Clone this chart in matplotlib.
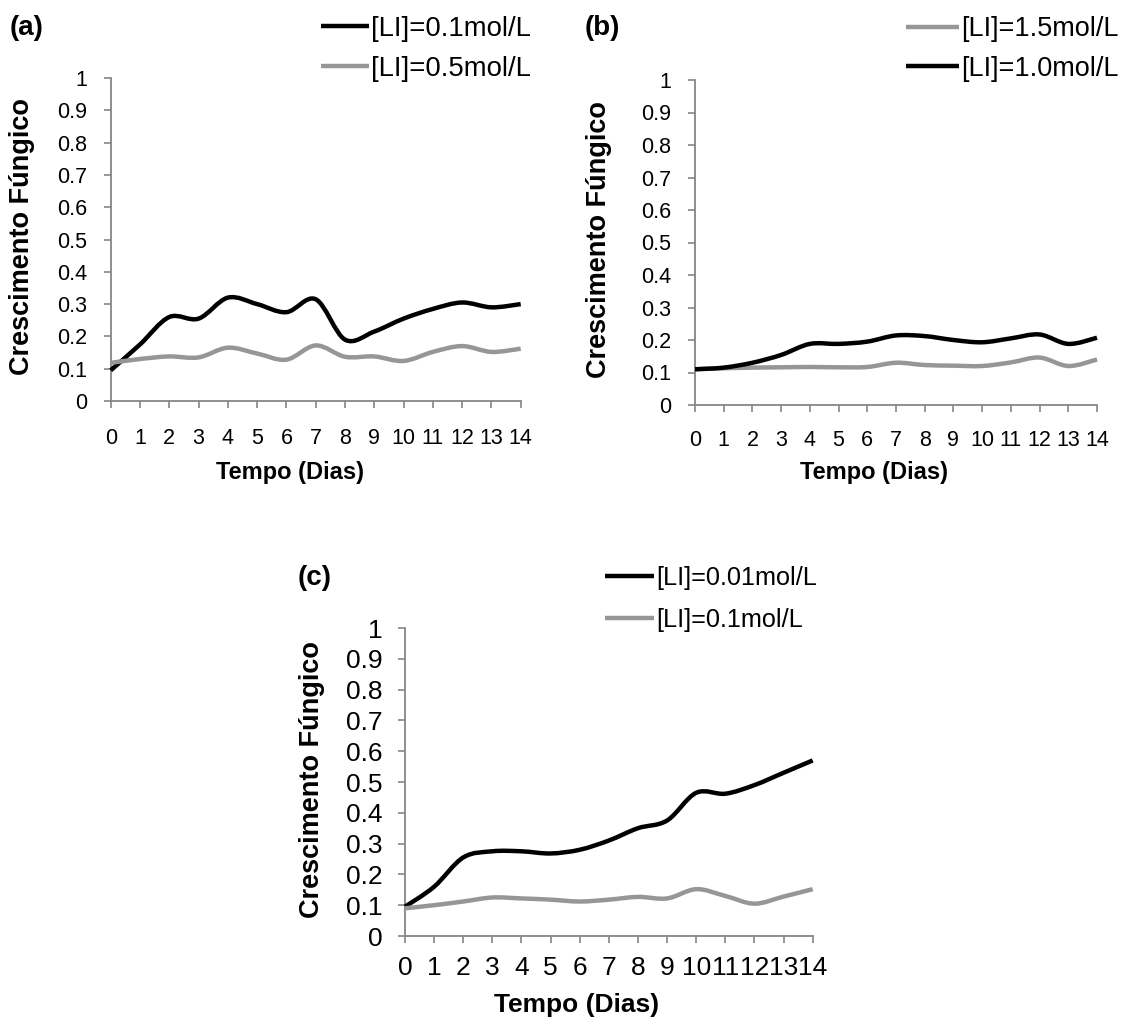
import matplotlib
matplotlib.use("Agg")
import matplotlib.pyplot as plt
from matplotlib.path import Path
from matplotlib.patches import PathPatch
from matplotlib.lines import Line2D

plt.rcParams['font.family'] = ['Liberation Sans', 'DejaVu Sans']

# Days of observation
days = list(range(15))
day_labels = [str(d) for d in days]
y_ticks = [0, 0.1, 0.2, 0.3, 0.4, 0.5, 0.6, 0.7, 0.8, 0.9, 1]
y_tick_labels = ['0', '0.1', '0.2', '0.3', '0.4', '0.5', '0.6', '0.7', '0.8', '0.9', '1']

# (a)
a_li_01 = [0.095, 0.175, 0.26, 0.255, 0.32, 0.30, 0.275, 0.315, 0.19, 0.215, 0.255, 0.285, 0.305, 0.29, 0.30]
a_li_05 = [0.118, 0.13, 0.138, 0.135, 0.165, 0.147, 0.128, 0.172, 0.137, 0.138, 0.124, 0.152, 0.17, 0.152, 0.162]

# (b)
b_li_15 = [0.11, 0.113, 0.115, 0.116, 0.117, 0.116, 0.117, 0.13, 0.123, 0.121, 0.12, 0.131, 0.146, 0.12, 0.14]
b_li_10 = [0.11, 0.115, 0.13, 0.154, 0.188, 0.188, 0.195, 0.214, 0.212, 0.20, 0.193, 0.205, 0.217, 0.188, 0.207]

# (c)
c_li_001 = [0.095, 0.16, 0.255, 0.275, 0.275, 0.268, 0.28, 0.31, 0.35, 0.375, 0.465, 0.462, 0.49, 0.53, 0.57]
c_li_01 = [0.09, 0.10, 0.112, 0.125, 0.122, 0.118, 0.112, 0.118, 0.127, 0.122, 0.152, 0.13, 0.105, 0.128, 0.152]

BLACK = '#000000'
GRAY = '#969696'
AXIS_GRAY = '#868686'

W, H = 1126, 1032
fig = plt.figure(figsize=(W / 100, H / 100), dpi=100)
fig.patch.set_facecolor('white')


def px_axes(left, right, top, bottom):
    return fig.add_axes([left / W, (H - bottom) / H, (right - left) / W, (bottom - top) / H])


def smooth_path(x, y):
    """Cubic Bezier path through the points (Catmull-Rom style smoothing)."""
    n = len(x)
    verts = [(x[0], y[0])]
    codes = [Path.MOVETO]
    for i in range(n - 1):
        i0 = i - 1 if i > 0 else i
        i3 = i + 2 if i + 2 < n else i + 1
        c1 = (x[i] + (x[i + 1] - x[i0]) / 6.0, y[i] + (y[i + 1] - y[i0]) / 6.0)
        c2 = (x[i + 1] - (x[i3] - x[i]) / 6.0, y[i + 1] - (y[i3] - y[i]) / 6.0)
        verts += [c1, c2, (x[i + 1], y[i + 1])]
        codes += [Path.CURVE4] * 3
    return Path(verts, codes)


def style_axes(ax, tick_fs, xpad, ypad):
    ax.set_xlim(0, 14)
    ax.set_ylim(0, 1)
    ax.set_xticks(days)
    ax.set_xticklabels(day_labels)
    ax.set_yticks(y_ticks)
    ax.set_yticklabels(y_tick_labels)
    for s in ('top', 'right'):
        ax.spines[s].set_visible(False)
    for s in ('left', 'bottom'):
        ax.spines[s].set_color(AXIS_GRAY)
        ax.spines[s].set_linewidth(1.3)
    ax.tick_params(axis='both', direction='out', length=5, width=1.2,
                   color=AXIS_GRAY, labelsize=tick_fs, labelcolor='black')
    ax.tick_params(axis='x', pad=xpad)
    ax.tick_params(axis='y', pad=ypad)
    ax.patch.set_alpha(0)


def draw_series(ax, series, legend_fs, legend_xy, handlelength, textpad, spacing):
    handles = []
    for values, color, label in series:
        patch = PathPatch(smooth_path(days, values), facecolor='none', edgecolor=color,
                          lw=3.2, capstyle='butt', joinstyle='round', clip_on=False, zorder=3)
        ax.add_patch(patch)
        handles.append(Line2D([], [], color=color, lw=3.2, solid_capstyle='butt', label=label))
    leg = fig.legend(handles=handles, loc='upper left',
                     bbox_to_anchor=(legend_xy[0] / W, 1 - legend_xy[1] / H),
                     frameon=False, fontsize=legend_fs, handlelength=handlelength,
                     handletextpad=textpad, labelspacing=spacing, borderpad=0,
                     borderaxespad=0)
    return leg


def labels(tag, tag_xy, xlab_xy, ylab_xy, tag_fs, xfs, yfs):
    fig.text(tag_xy[0] / W, 1 - tag_xy[1] / H, tag, fontsize=tag_fs, fontweight='bold',
             ha='left', va='center')
    fig.text(xlab_xy[0] / W, 1 - xlab_xy[1] / H, 'Tempo (Dias)', fontsize=xfs,
             fontweight='bold', ha='center', va='center')
    fig.text(ylab_xy[0] / W, 1 - ylab_xy[1] / H, 'Crescimento Fúngico', fontsize=yfs,
             fontweight='bold', ha='center', va='center', rotation=90)


# Panel (a)
ax_a = px_axes(110.7, 520.7, 78, 401)
style_axes(ax_a, 15.5, 14.5, 12)
draw_series(ax_a, [(a_li_01, BLACK, '[LI]=0.1mol/L'), (a_li_05, GRAY, '[LI]=0.5mol/L')],
            19.8, (321, 16), 1.75, 0.08, 0.5)
labels('(a)', (10, 28), (290, 473), (22, 237), 20, 17, 19.5)

# Panel (b)
ax_b = px_axes(695, 1097, 80, 405)
style_axes(ax_b, 15.5, 13, 12)
draw_series(ax_b, [(b_li_15, GRAY, '[LI]=1.5mol/L'), (b_li_10, BLACK, '[LI]=1.0mol/L')],
            19.5, (906, 16), 1.95, 0.08, 0.5)
labels('(b)', (585, 28), (874, 473), (599, 240), 20, 17, 19.5)

# Panel (c)
ax_c = px_axes(405, 812.7, 628, 936)
style_axes(ax_c, 19, 9.5, 11)
draw_series(ax_c, [(c_li_001, BLACK, '[LI]=0.01mol/L'), (c_li_01, GRAY, '[LI]=0.1mol/L')],
            18.2, (605, 566), 1.95, 0.08, 0.7)
labels('(c)', (298, 578), (577, 1005), (312, 780), 20, 19, 19.5)

fig.savefig('out.png', dpi=100, facecolor='white')
